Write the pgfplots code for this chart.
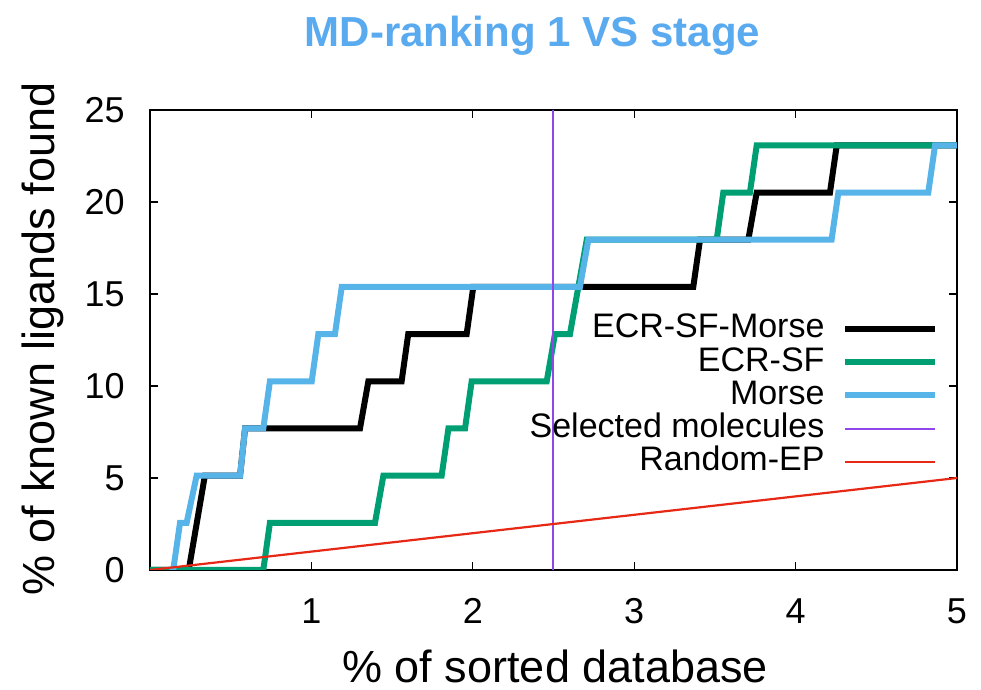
\documentclass[border=0pt]{standalone}
\usepackage{fontspec}
\setmainfont{Liberation Sans}
\usepackage{pgfplots}
\pgfplotsset{compat=1.18}
\definecolor{cgreen}{RGB}{0,158,115}
\definecolor{cblue}{RGB}{86,180,233}
\definecolor{cred}{RGB}{230,40,20}
\definecolor{selcol}{RGB}{145,70,235}
\definecolor{ctitle}{RGB}{90,170,240}
\begin{document}
\begin{tikzpicture}
\path[use as bounding box] (-75pt,-60pt) rectangle (415.5pt,285pt);
\begin{axis}[
  scale only axis, width=403.5pt, height=230pt,
  xmin=0, xmax=5, ymin=0, ymax=25,
  xtick={1,2,3,4,5}, ytick={0,5,...,25},
  tick align=inside, major tick length=4pt,
  axis line style={line width=0.6pt},
  tick style={line width=0.6pt, black},
  ticklabel style={font=\fontsize{18pt}{22pt}\selectfont, inner sep=0pt,
    /pgf/number format/assume math mode=true},
  xticklabel style={anchor=north, yshift=-14pt},
  yticklabel style={anchor=east, xshift=-12.5pt},
  xlabel={\% of sorted database},
  ylabel={\% of known ligands found},
  label style={font=\fontsize{22.5pt}{27pt}\selectfont, inner sep=0.5pt},
  xlabel style={at={(axis description cs:0.502,-0.245)}, anchor=base},
  ylabel style={at={(axis description cs:-0.118,0.502)}, anchor=base},
  title={MD-ranking 1 VS stage},
  title style={at={(axis description cs:0.474,1.137)}, anchor=base, yshift=-6pt,
    font=\fontsize{21pt}{25pt}\selectfont\bfseries, text=ctitle},
  legend style={draw=none, fill=none, at={(axis description cs:0.985,0.57)},
    anchor=north east, font=\fontsize{17pt}{17pt}\selectfont,
    nodes={inner sep=1pt, text height=11.8pt, text depth=2.85pt},
    column sep=8pt, legend cell align=right},
  legend plot pos=right,
  legend image code/.code={\draw[#1] (0pt,0pt) -- (45pt,0pt);},
]
% ECR-SF-Morse
\addplot[black, line width=3pt] coordinates {
  (0,0)(0.24,0)(0.34,5.128)(0.558,5.128)(0.589,7.692)(1.301,7.692)
  (1.353,10.256)(1.559,10.256)(1.600,12.821)(1.962,12.821)(2.003,15.385)
  (3.366,15.385)(3.408,17.949)(3.707,17.949)(3.759,20.513)(4.213,20.513)
  (4.255,23.077)(5,23.077)};
\addlegendentry{ECR-SF-Morse}
% ECR-SF
\addplot[cgreen, line width=3pt] coordinates {
  (0,0)(0.702,0)(0.743,2.564)(1.394,2.564)(1.446,5.128)(1.807,5.128)
  (1.849,7.692)(1.952,7.692)(1.993,10.256)(2.458,10.256)(2.509,12.821)
  (2.602,12.821)(2.706,17.949)(3.511,17.949)(3.552,20.513)(3.717,20.513)
  (3.759,23.077)(5,23.077)};
\addlegendentry{ECR-SF}
% Morse
\addplot[cblue, line width=3pt] coordinates {
  (0.12,0)(0.144,0)(0.186,2.564)(0.227,2.564)(0.289,5.128)(0.558,5.128)
  (0.589,7.692)(0.702,7.692)(0.743,10.256)(1.002,10.256)(1.043,12.821)
  (1.146,12.821)(1.188,15.385)(2.664,15.385)(2.716,17.949)(4.223,17.949)
  (4.265,20.513)(4.822,20.513)(4.864,23.077)(5,23.077)};
\addlegendentry{Morse}
% Selected molecules
\addplot[selcol, line width=1pt] coordinates {(2.5,0)(2.5,25)};
\addlegendentry{Selected molecules}
% Random-EP
\addplot[cred, line width=1.1pt] coordinates {(0,0)(5,5)};
\addlegendentry{Random-EP}
\end{axis}
\end{tikzpicture}
\end{document}
